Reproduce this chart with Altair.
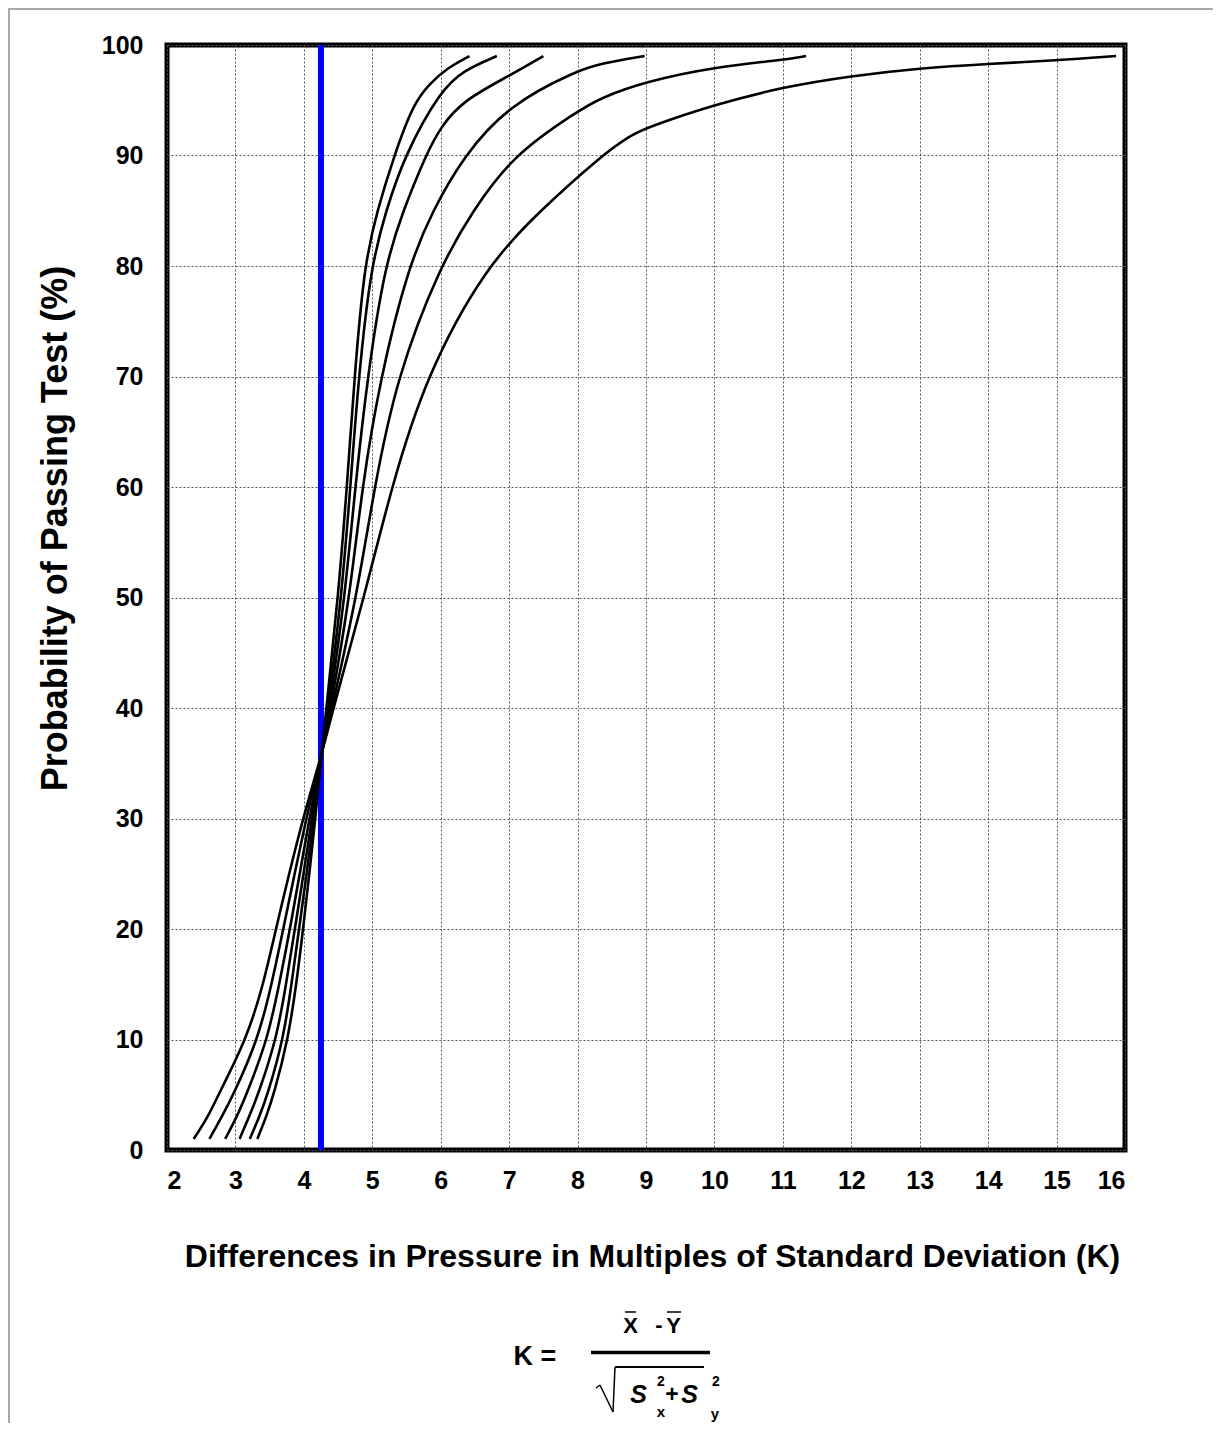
import altair as alt
import pandas as pd

# ---- data ----
k_c1 = [3.32, 3.45, 3.56, 3.77, 3.89, 3.99, 4.17, 4.25, 4.33, 4.50, 4.63, 4.74, 4.88, 5.07, 5.32, 5.60, 5.84, 6.09, 6.42]
p_c1 = [1, 3, 5, 10, 15, 20, 30, 35.5, 40, 50, 60, 70, 80, 85, 90, 94.7, 96.5, 97.9, 99]

k_c2 = [3.21, 3.35, 3.47, 3.70, 3.82, 3.93, 4.15, 4.25, 4.35, 4.55, 4.68, 4.80, 4.98, 5.20, 5.47, 6.00, 6.33, 6.82]
p_c2 = [1, 3, 5, 10, 15, 20, 30, 35.5, 40, 50, 60, 70, 80, 85, 90, 95.9, 97.7, 99]

k_c3 = [3.06, 3.20, 3.33, 3.60, 3.74, 3.87, 4.12, 4.25, 4.37, 4.60, 4.75, 4.93, 5.18, 5.45, 5.78, 6.00, 6.33, 7.00, 7.50]
p_c3 = [1, 3, 5, 10, 15, 20, 30, 35.5, 40, 50, 60, 70, 80, 85, 90, 92.6, 95, 97.2, 99]

k_c4 = [2.85, 3.02, 3.16, 3.47, 3.64, 3.80, 4.08, 4.25, 4.39, 4.67, 4.85, 5.12, 5.53, 5.88, 6.34, 7.00, 8.00, 8.33, 8.98]
p_c4 = [1, 3, 5, 10, 15, 20, 30, 35.5, 40, 50, 60, 70, 80, 85, 90, 94.6, 97.7, 98.3, 99]

k_c5 = [2.62, 2.80, 2.97, 3.33, 3.53, 3.70, 4.03, 4.25, 4.41, 4.77, 5.03, 5.36, 5.99, 6.47, 7.05, 8.00, 8.33, 9.00, 10.00, 11.00, 11.34]
p_c5 = [1, 3, 5, 10, 15, 20, 30, 35.5, 40, 50, 60, 70, 80, 85, 90, 94.0, 95.2, 96.7, 98.0, 98.65, 99]

k_c6 = [2.39, 2.60, 2.75, 3.16, 3.41, 3.59, 3.98, 4.25, 4.43, 4.88, 5.28, 5.78, 6.66, 7.45, 8.35, 8.77, 9.00, 10.00, 11.00, 12.00, 13.00, 14.00, 15.00, 15.87]
p_c6 = [1, 3, 5, 10, 15, 20, 30, 35.5, 40, 50, 60, 70, 80, 85, 90, 91.8, 92.5, 94.6, 96.2, 97.2, 97.9, 98.3, 98.6, 99]

series_names = ["Curve 1", "Curve 2", "Curve 3", "Curve 4", "Curve 5", "Curve 6"]
x_ticks = list(range(2, 17))
y_ticks = list(range(0, 101, 10))
blue_k = [4.25]

x_title = "Differences in Pressure in Multiples of Standard Deviation (K)"
y_title = "Probability of Passing Test (%)"

# ---- build table ----
rows = []
for name, ks, ps in zip(series_names, [k_c1, k_c2, k_c3, k_c4, k_c5, k_c6],
                        [p_c1, p_c2, p_c3, p_c4, p_c5, p_c6]):
    for i, (k, p) in enumerate(zip(ks, ps)):
        rows.append({"series": name, "k": k, "p": p, "order": i})
df = pd.DataFrame(rows)

W, H = 958, 1105
FONT = "Liberation Sans"

xscale = alt.Scale(domain=[2, 16], nice=False, zero=False)
yscale = alt.Scale(domain=[0, 100], nice=False, zero=True)

x_axis = alt.Axis(values=x_ticks, grid=True, domain=False, ticks=False, tickSize=0,
                  labelPadding=18, labelFontSize=25, labelFontWeight="bold", labelFont=FONT,
                  labelColor="black", title=x_title, titleFontSize=32, titleFont=FONT,
                  titleFontWeight="bold", titleColor="black", titleX=485, titleY=106,
                  titleAlign="center", titleBaseline="middle",
                  gridColor="#555555", gridDash=[2, 2], gridWidth=1)
y_axis = alt.Axis(values=y_ticks, grid=True, domain=False, ticks=False, tickSize=0,
                  labelPadding=24, labelFontSize=25, labelFontWeight="bold", labelFont=FONT,
                  labelColor="black", title=y_title, titleFontSize=36, titleFont=FONT,
                  titleFontWeight="bold", titleColor="black", titleX=-112, titleY=483,
                  titleAngle=270, titleAlign="center", titleBaseline="middle",
                  gridColor="#555555", gridDash=[2, 2], gridWidth=1)

blue = alt.Chart(pd.DataFrame({"k": blue_k})).mark_rule(color="#0000ff", strokeWidth=6).encode(
    x=alt.X("k:Q", scale=xscale, axis=x_axis)
)

curves = alt.Chart(df).mark_line(color="black", strokeWidth=2.6, interpolate="basis").encode(
    x=alt.X("k:Q", scale=xscale, axis=x_axis),
    y=alt.Y("p:Q", scale=yscale, axis=y_axis),
    detail="series:N",
    order="order:Q",
)

one = pd.DataFrame({"a": [0]})
OX, OY = 167, 45  # plot origin on the page


def txt(s, px, py, size, italic=False):
    return alt.Chart(one).mark_text(
        text=s, font=FONT, fontSize=size, fontWeight="bold",
        fontStyle="italic" if italic else "normal", color="black",
        align="center", baseline="middle",
    ).encode(x=alt.value(px - OX), y=alt.value(py - OY))


def seg(x1, y1, x2, y2, w, color="black"):
    return alt.Chart(one).mark_rule(color=color, strokeWidth=w).encode(
        x=alt.value(x1 - OX), y=alt.value(y1 - OY), x2=alt.value(x2 - OX), y2=alt.value(y2 - OY)
    )


frame = alt.Chart(one).mark_rect(fill=None, stroke="#a8a8a8", strokeWidth=2).encode(
    x=alt.value(9 - OX), y=alt.value(9 - OY), x2=alt.value(1400 - OX), y2=alt.value(1600 - OY)
)

formula = [
    txt("K =", 535, 1357, 27),
    txt("X", 630.5, 1326, 22),
    txt("-", 659, 1325, 22),
    txt("Y", 673.5, 1326, 22),
    seg(625, 1312, 636, 1312, 1.5),
    seg(667, 1312, 681, 1312, 1.5),
    seg(591, 1352.5, 710, 1352.5, 3.5),
    seg(596, 1388, 600, 1385, 1.5),
    seg(600, 1385, 613, 1412, 1.5),
    seg(613, 1412, 615, 1367, 1.5),
    seg(615, 1367, 704, 1367, 2),
    txt("S", 638.5, 1395, 25, italic=True),
    txt("2", 661, 1382, 14),
    txt("x", 661, 1412, 15),
    txt("+", 672, 1395, 23),
    txt("S", 689.5, 1395, 25, italic=True),
    txt("2", 716, 1382, 14),
    txt("y", 715, 1414, 15),
]

chart = alt.layer(blue, curves, frame, *formula).properties(
    width=W, height=H,
    autosize=alt.AutoSizeParams(type="none"),
    padding={"left": OX - 8, "top": OY - 8, "right": 1229 - 16 - OX - W, "bottom": 1439 - 16 - OY - H},
    background="white",
).configure_view(stroke="black", strokeWidth=5)

chart.save("out.html", embed_options={"renderer": "svg", "actions": False})
